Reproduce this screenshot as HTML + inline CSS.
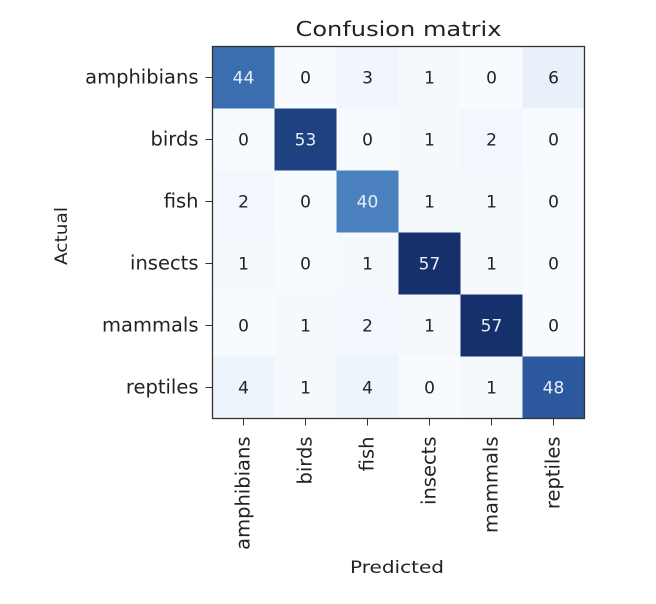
<!DOCTYPE html>
<html><head><meta charset="utf-8"><style>
body{margin:0;background:#fff;font-family:"DejaVu Sans","Liberation Sans",sans-serif;}
</style></head><body>
<svg id="chart" width="656" height="600" xmlns="http://www.w3.org/2000/svg">
<rect width="656" height="600" fill="#fff"/>
<text x="398.5" y="36" font-size="20" text-anchor="middle" fill="#222" textLength="206" lengthAdjust="spacingAndGlyphs">Confusion matrix</text>
<g id="cells"></g>
<rect x="212.5" y="46.5" width="372" height="372" fill="none" stroke="#333" stroke-width="1.3"/>
<g id="ticks"></g>
<text transform="translate(67,236) rotate(-90)" font-size="17" text-anchor="middle" fill="#222" textLength="58" lengthAdjust="spacingAndGlyphs">Actual</text>
<text x="397" y="573" font-size="17" text-anchor="middle" fill="#222" textLength="94" lengthAdjust="spacingAndGlyphs">Predicted</text>
</svg>
<script>
const categories=["amphibians","birds","fish","insects","mammals","reptiles"];
const row0=[44,0,3,1,0,6];
const row1=[0,53,0,1,2,0];
const row2=[2,0,40,1,1,0];
const row3=[1,0,1,57,1,0];
const row4=[0,1,2,1,57,0];
const row5=[4,1,4,0,1,48];
const matrix=[row0,row1,row2,row3,row4,row5];
const NS="http://www.w3.org/2000/svg";
const X0=212.5,Y0=46.5,W=372;
const n=categories.length,cw=W/n;
const maxV=Math.max(...matrix.flat());
const stops=["#f7fbff","#e6eef8","#d0dff0","#aac8e4","#7aa9d5","#5b93cb","#3f74b5","#254f95","#15306a"];
function hx(h){return [1,3,5].map(i=>parseInt(h.substr(i,2),16));}
function blues(t){t=Math.max(0,Math.min(1,t));const p=t*(stops.length-1);const i=Math.min(Math.floor(p),stops.length-2);const f=p-i;const a=hx(stops[i]),b=hx(stops[i+1]);return "rgb("+a.map((v,k)=>Math.round(v+(b[k]-v)*f)).join(",")+")";}
function xs(j){return X0+j*cw;}
function ys(i){return Y0+i*cw;}
const cells=document.getElementById("cells"),ticks=document.getElementById("ticks");
matrix.forEach((row,i)=>row.forEach((v,j)=>{
 const r=document.createElementNS(NS,"rect");
 
 
 r.setAttribute("x",xs(j));r.setAttribute("y",ys(i));r.setAttribute("width",cw+0.5);r.setAttribute("height",cw+0.5);
 r.setAttribute("fill",blues(v/maxV));cells.appendChild(r);
 const t=document.createElementNS(NS,"text");
 
 
 t.setAttribute("x",xs(j)+cw/2);t.setAttribute("y",ys(i)+cw/2+6);t.setAttribute("font-size","17");
 t.setAttribute("text-anchor","middle");t.setAttribute("fill",v>maxV/2?"#e8eef8":"#222");
 t.textContent=v;cells.appendChild(t);
}));
categories.forEach((c,k)=>{
 const yc=ys(k)+cw/2, xc=xs(k)+cw/2;
 const l1=document.createElementNS(NS,"line");
 
 
 l1.setAttribute("x1",X0-7);l1.setAttribute("x2",X0);l1.setAttribute("y1",yc);l1.setAttribute("y2",yc);l1.setAttribute("stroke","#333");ticks.appendChild(l1);
 const t1=document.createElementNS(NS,"text");
 
 
 t1.setAttribute("x",X0-14);t1.setAttribute("y",yc+6);t1.setAttribute("font-size","19.5");t1.setAttribute("text-anchor","end");t1.setAttribute("fill","#222");
 t1.textContent=c;ticks.appendChild(t1);
 const l2=document.createElementNS(NS,"line");
 
 
 l2.setAttribute("x1",xc);l2.setAttribute("x2",xc);l2.setAttribute("y1",Y0+W);l2.setAttribute("y2",Y0+W+7);l2.setAttribute("stroke","#333");ticks.appendChild(l2);
 const t2=document.createElementNS(NS,"text");
 
 
 t2.setAttribute("transform","translate("+(xc+6)+","+(Y0+W+18)+") rotate(-90)");
 t2.setAttribute("font-size","19.5");t2.setAttribute("text-anchor","end");t2.setAttribute("fill","#222");
 t2.textContent=c;ticks.appendChild(t2);
});
</script>
</body></html>
